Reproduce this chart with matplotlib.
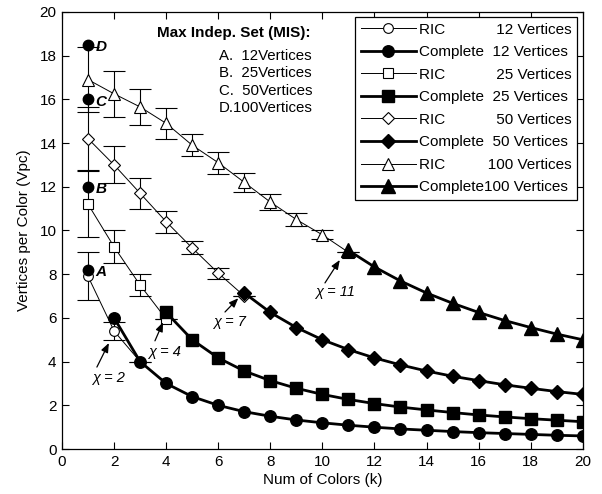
import matplotlib
matplotlib.use("Agg")
import matplotlib.pyplot as plt

plt.rcParams['font.family'] = ['Liberation Sans', 'DejaVu Sans']

# RIC (random) results, with error bar half-widths
ric12_k = [1, 2, 3]
ric12_v = [7.9, 5.4, 4.0]
ric12_e = [1.1, 0.4, 0.0]

ric25_k = [1, 2, 3, 4]
ric25_v = [11.2, 9.25, 7.5, 5.95]
ric25_e = [1.5, 0.75, 0.5, 0.0]

ric50_k = [1, 2, 3, 4, 5, 6, 7]
ric50_v = [14.2, 13.0, 11.7, 10.4, 9.2, 8.05, 7.0]
ric50_e = [1.45, 0.85, 0.7, 0.5, 0.3, 0.25, 0.0]

ric100_k = [1, 2, 3, 4, 5, 6, 7, 8, 9, 10, 11]
ric100_v = [16.9, 16.25, 15.65, 14.9, 13.9, 13.1, 12.2, 11.3, 10.5, 9.8, 9.0]
ric100_e = [1.5, 1.05, 0.83, 0.7, 0.5, 0.5, 0.45, 0.35, 0.3, 0.2, 0.0]

# Complete coloring results
comp12_k = list(range(2, 21))
comp12_v = [6.0, 4.0, 3.0, 2.4, 2.0, 1.71, 1.5, 1.33, 1.2, 1.09, 1.0, 0.92,
            0.86, 0.8, 0.75, 0.71, 0.67, 0.63, 0.6]
comp25_k = list(range(4, 21))
comp25_v = [6.25, 5.0, 4.17, 3.57, 3.13, 2.78, 2.5, 2.27, 2.08, 1.92, 1.79,
            1.67, 1.56, 1.47, 1.39, 1.32, 1.25]
comp50_k = list(range(7, 21))
comp50_v = [7.14, 6.25, 5.56, 5.0, 4.55, 4.17, 3.85, 3.57, 3.33, 3.13, 2.94,
            2.78, 2.63, 2.5]
comp100_k = list(range(11, 21))
comp100_v = [9.09, 8.33, 7.69, 7.14, 6.67, 6.25, 5.88, 5.56, 5.26, 5.0]

legend_labels = [
    "RIC            12 Vertices", "Complete  12 Vertices",
    "RIC            25 Vertices", "Complete  25 Vertices",
    "RIC            50 Vertices", "Complete  50 Vertices",
    "RIC          100 Vertices", "Complete100 Vertices",
]

# Max independent set points at k = 1
mis_labels = ["A", "B", "C", "D"]
mis_v = [8.2, 12.0, 16.0, 18.5]
mis_text = ["A.  12Vertices", "B.  25Vertices", "C.  50Vertices", "D.100Vertices"]

# chromatic number annotations: (label, arrow tip, arrow tail, text position)
chi_notes = [
    ("χ = 2", (1.8, 4.85), (1.34, 3.75), (1.78, 3.25)),
    ("χ = 4", (3.88, 5.8), (3.57, 4.95), (3.95, 4.45)),
    ("χ = 7", (6.77, 6.9), (6.26, 6.27), (6.45, 5.8)),
    ("χ = 11", (10.67, 8.65), (10.1, 7.6), (10.48, 7.2)),
]

fig = plt.figure(figsize=(6.02, 4.94), dpi=100)
ax = fig.add_axes([0.103, 0.091, 0.865, 0.885])

ric_style = dict(color="black", lw=0.7, mfc="white", mec="black", mew=0.8,
                 ms=7, ecolor="black", elinewidth=0.8, capsize=8, capthick=0.8,
                 zorder=2)
comp_style = dict(color="black", lw=2.0, mfc="black", mec="black", ms=8.3,
                  zorder=3)

h = []
h.append(ax.errorbar(ric12_k, ric12_v, yerr=ric12_e, marker="o", **ric_style)[0])
h.append(ax.plot(comp12_k, comp12_v, marker="o", **comp_style)[0])
h.append(ax.errorbar(ric25_k, ric25_v, yerr=ric25_e, marker="s", **ric_style)[0])
h.append(ax.plot(comp25_k, comp25_v, marker="s", **comp_style)[0])
h.append(ax.errorbar(ric50_k, ric50_v, yerr=ric50_e, marker="D",
                     **dict(ric_style, ms=6))[0])
h.append(ax.plot(comp50_k, comp50_v, marker="D", **dict(comp_style, ms=7.5))[0])
h.append(ax.errorbar(ric100_k, ric100_v, yerr=ric100_e, marker="^",
                     **dict(ric_style, ms=8))[0])
h.append(ax.plot(comp100_k, comp100_v, marker="^", **dict(comp_style, ms=10))[0])

# MIS points
ax.plot([1] * len(mis_v), mis_v, "o", color="black", ms=7.5, zorder=5)
for lab, v in zip(mis_labels, mis_v):
    ax.text(1.28, v - 0.12, lab, fontsize=11, fontweight="bold",
            fontstyle="italic", va="center", ha="left")

ax.text(3.65, 19.05, "Max Indep. Set (MIS):", fontsize=11, fontweight="bold",
        va="center", ha="left")
for i, t in enumerate(mis_text):
    ax.text(6.03, 18.0 - i * 0.8, t, fontsize=10.8, va="center", ha="left")

for lab, tip, tail, txt in chi_notes:
    ax.annotate("", xy=tip, xytext=tail,
                arrowprops=dict(arrowstyle="-|>,head_length=0.55,head_width=0.22",
                                color="black", lw=0.9, shrinkA=0, shrinkB=0))
    ax.text(txt[0], txt[1], lab, fontsize=10.5, fontstyle="italic",
            ha="center", va="center")

ax.set_xlim(0, 20)
ax.set_ylim(0, 20)
ax.set_xticks(range(0, 21, 2))
ax.set_yticks(range(0, 21, 2))
ax.tick_params(direction="in", top=True, right=True, length=5, labelsize=11,
               pad=4)
for s in ax.spines.values():
    s.set_linewidth(0.9)

ax.set_xlabel("Num of Colors (k)", fontsize=11, labelpad=3)
ax.set_ylabel("Vertices per Color (Vpc)", fontsize=11, labelpad=6)

leg = ax.legend(h, legend_labels, loc="upper right", fontsize=11, fancybox=False,
                edgecolor="black", framealpha=1, handlelength=3.6,
                borderaxespad=0.35, labelspacing=0.56, handletextpad=0.25,
                borderpad=0.35)
leg.get_frame().set_linewidth(0.9)

fig.savefig("out.png", dpi=100)
plt.close(fig)
